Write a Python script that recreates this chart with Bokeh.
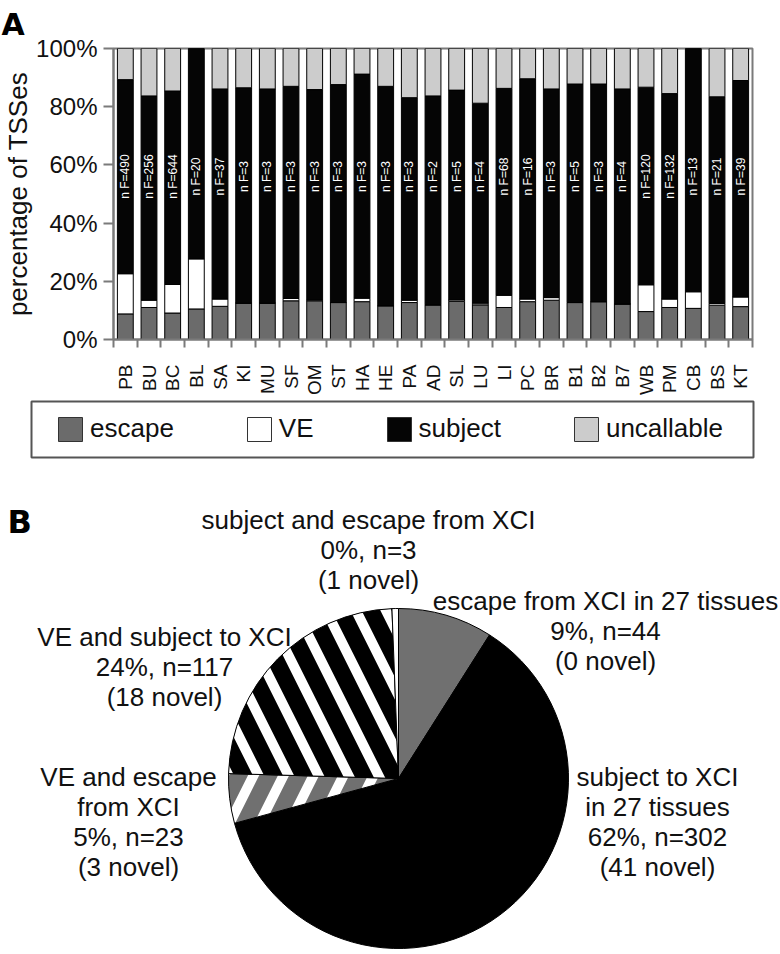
import math
from bokeh.plotting import figure
from bokeh.models import (ColumnDataSource, Range1d, FixedTicker, PrintfTickFormatter,
                          Legend, LegendItem, Label, Title)
from bokeh.embed import file_html
from bokeh.resources import INLINE
from bokeh.core.properties import value

# ---------------- data: panel A ----------------
tissues = ["PB", "BU", "BC", "BL", "SA", "KI", "MU", "SF", "OM", "ST", "HA", "HE", "PA", "AD",
           "SL", "LU", "LI", "PC", "BR", "B1", "B2", "B7", "WB", "PM", "CB", "BS", "KT"]
escape = [8.8, 11.0, 9.1, 10.5, 11.4, 12.5, 12.5, 13.3, 13.3, 12.7, 13.0, 11.6, 12.7, 11.9,
          13.1, 11.9, 11.0, 13.0, 13.5, 12.7, 13.0, 12.2, 9.6, 11.0, 10.7, 11.8, 11.3]
ve = [13.8, 2.5, 9.8, 17.2, 2.5, 0.0, 0.0, 0.8, 0.3, 0.0, 1.2, 0.0, 0.8, 0.0,
      0.5, 0.6, 4.2, 0.9, 0.9, 0.0, 0.0, 0.0, 9.2, 2.9, 5.7, 0.6, 3.3]
subject = [66.7, 70.2, 66.5, 72.3, 72.2, 74.0, 73.6, 72.9, 72.3, 74.9, 77.0, 75.4, 69.6, 71.8,
           72.1, 68.7, 71.1, 75.7, 71.7, 75.1, 74.8, 73.9, 67.9, 70.6, 83.6, 71.0, 74.4]
uncallable = [10.7, 16.3, 14.6, 0.0, 13.9, 13.5, 13.9, 13.0, 14.1, 12.4, 8.8, 13.0, 16.9, 16.3,
              14.3, 18.8, 13.7, 10.4, 13.9, 12.2, 12.2, 13.9, 13.3, 15.5, 0.0, 16.6, 11.0]
n_f = [490, 256, 644, 20, 37, 3, 3, 3, 3, 3, 3, 3, 3, 2, 5, 4, 68, 16, 3, 5, 3, 4, 120, 132, 13, 21, 39]
stack_names = ["escape", "VE", "subject", "uncallable"]
y_ticks = [0, 20, 40, 60, 80, 100]

# ---------------- data: panel B ----------------
pie_groups = ["escape", "subject", "VE_escape", "VE_subject", "subject_escape"]
pie_counts = [44, 302, 23, 117, 3]
pie_labels = [
    ["escape from XCI in 27 tissues", "9%, n=44", "(0 novel)"],
    ["subject to XCI", "in 27 tissues", "62%, n=302", "(41 novel)"],
    ["VE and escape", "from XCI", "5%, n=23", "(3 novel)"],
    ["VE and subject to XCI", "24%, n=117", "(18 novel)"],
    ["subject and escape from XCI", "0%, n=3", "(1 novel)"],
]

# ---------------- styles ----------------
FONT = "Liberation Sans"
PANEL_FONT = "DejaVu Sans"
stack_colors = ["#6b6b6b", "#ffffff", "#050505", "#cccccc"]
pie_fill = ["#707070", "#000000", "#707070", "#000000", "#ffffff"]
pie_hatch = [" ", " ", "/", "\\", " "]
AXIS_GRAY = "#7a7a7a"
TXT = "#111111"

W = 780
H1, HL, H2 = 398, 72, 480

# ================= panel A =================
p1 = figure(width=W, height=H1, x_range=Range1d(-0.5, 26.5), y_range=Range1d(0, 100),
            output_backend="svg", toolbar_location=None,
            min_border_left=110, min_border_right=28, min_border_top=48, min_border_bottom=54)
p1.title = Title(text="A", text_font=PANEL_FONT, text_font_size="30px", text_font_style="bold",
                 text_color="#000000", align="left", vertical_align="top", offset=-112)
p1.xgrid.visible = False
p1.ygrid.visible = False
p1.outline_line_color = AXIS_GRAY
p1.outline_line_width = 2

src = ColumnDataSource(dict(
    x=list(range(len(tissues))),
    escape=escape, VE=ve, subject=subject, uncallable=uncallable,
    nf=["n F=%d" % n for n in n_f],
    ny=[56] * len(tissues),
))
rends = p1.vbar_stack(stack_names, x="x", width=0.67, source=src,
                      fill_color=stack_colors, line_color="black", line_width=1)

p1.text(x="x", y="ny", text="nf", source=src, angle=math.pi / 2,
        text_align="center", text_baseline="middle", text_color="white",
        text_font=value(FONT), text_font_size="12px")

xa = p1.xaxis[0]
xa.ticker = FixedTicker(ticks=list(range(len(tissues))),
                        minor_ticks=[i - 0.5 for i in range(len(tissues) + 1)])
xa.major_label_overrides = {i: t for i, t in enumerate(tissues)}
xa.major_label_orientation = math.pi / 2
xa.major_label_text_font = FONT
xa.major_label_text_font_size = "19px"
xa.major_label_text_color = TXT
xa.major_tick_line_color = None
xa.major_tick_out = 0
xa.major_tick_in = 0
xa.major_label_standoff = 17
xa.minor_tick_line_color = AXIS_GRAY
xa.minor_tick_line_width = 2
xa.minor_tick_out = 8
xa.minor_tick_in = 0
xa.axis_line_color = AXIS_GRAY
xa.axis_line_width = 2

ya = p1.yaxis[0]
ya.ticker = FixedTicker(ticks=y_ticks)
ya.formatter = PrintfTickFormatter(format="%d%%")
ya.major_label_text_font = FONT
ya.major_label_text_font_size = "24px"
ya.major_label_text_color = TXT
ya.major_tick_out = 10
ya.major_tick_in = 0
ya.major_tick_line_color = AXIS_GRAY
ya.major_tick_line_width = 2
ya.minor_tick_line_color = None
ya.axis_line_color = AXIS_GRAY
ya.axis_line_width = 2
ya.major_label_standoff = 6
ya.axis_label = "percentage of TSSes"
ya.axis_label_text_font = FONT
ya.axis_label_text_font_size = "26px"
ya.axis_label_text_font_style = "normal"
ya.axis_label_text_color = TXT
ya.axis_label_standoff = 0

# ================= legend strip (frame outline = legend box) =================
pl = figure(width=W, height=HL, x_range=Range1d(0, 1), y_range=Range1d(0, 1),
            output_backend="svg", toolbar_location=None,
            min_border_left=31, min_border_right=27, min_border_top=3, min_border_bottom=13,
            x_axis_location=None, y_axis_location=None)
pl.xgrid.visible = False
pl.ygrid.visible = False
pl.outline_line_color = "#555555"
pl.outline_line_width = 2
leg_rends = []
for name, col in zip(stack_names, stack_colors):
    swatch_src = ColumnDataSource(dict(x=[float("nan")], top=[float("nan")]))
    leg_rends.append(pl.vbar(x="x", top="top", width=0.1, source=swatch_src,
                             fill_color=col, line_color="#333333", line_width=1))
legend = Legend(items=[LegendItem(label=n, renderers=[r]) for n, r in zip(stack_names, leg_rends)],
                location=(24, 13), orientation="horizontal",
                label_text_font=FONT, label_text_font_size="26px", label_text_color=TXT,
                glyph_width=30, glyph_height=30, label_height=30, label_standoff=5, spacing=70,
                padding=0, margin=0, border_line_color=None,
                background_fill_alpha=0.0)
pl.add_layout(legend)

# ================= panel B =================
TOP2 = H1 + HL
p2 = figure(width=W, height=H2, x_range=Range1d(0, W), y_range=Range1d(0, H2),
            output_backend="svg", toolbar_location=None, min_border=0,
            x_axis_location=None, y_axis_location=None)
p2.xgrid.visible = False
p2.ygrid.visible = False
p2.outline_line_color = None


def py(y_page):
    # convert a page-pixel y position into panel B data units
    return TOP2 + H2 - y_page


cx, cy, rad = 398, py(778), 170
total = float(sum(pie_counts))
starts, ends = [], []
cum = 0
for c in pie_counts:
    starts.append(math.pi / 2 - 2 * math.pi * cum / total)
    cum += c
    ends.append(math.pi / 2 - 2 * math.pi * cum / total)

psrc = ColumnDataSource(dict(group=pie_groups, start=starts, end=ends,
                             fill=pie_fill, hatch=pie_hatch))
p2.wedge(x=cx, y=cy, radius=rad, start_angle="start", end_angle="end", direction="clock",
         fill_color="fill", hatch_pattern="hatch", hatch_color="white",
         hatch_weight=10, hatch_scale=60, line_color="black", line_width=1, source=psrc)

# label anchors (centre x, first baseline y) in page pixels
label_anchor = [(605, 600), (657, 776), (128, 776), (164, 636), (368, 519)]
LINE_STEP = 30
lx, ly, lt = [], [], []
for (ax, ay), lines in zip(label_anchor, pie_labels):
    for k, line in enumerate(lines):
        lx.append(ax)
        ly.append(py(ay + k * LINE_STEP))
        lt.append(line)
p2.text(x=lx, y=ly, text=lt, text_align="center", text_baseline="alphabetic",
        text_font=value(FONT), text_font_size="26px", text_color=TXT)

p2.add_layout(Label(x=7, y=py(540), text="B", text_font=PANEL_FONT, text_font_size="32px",
                    text_font_style="bold", text_color="#000000"))

open("out.html", "w").write(file_html([p1, pl, p2], INLINE))
